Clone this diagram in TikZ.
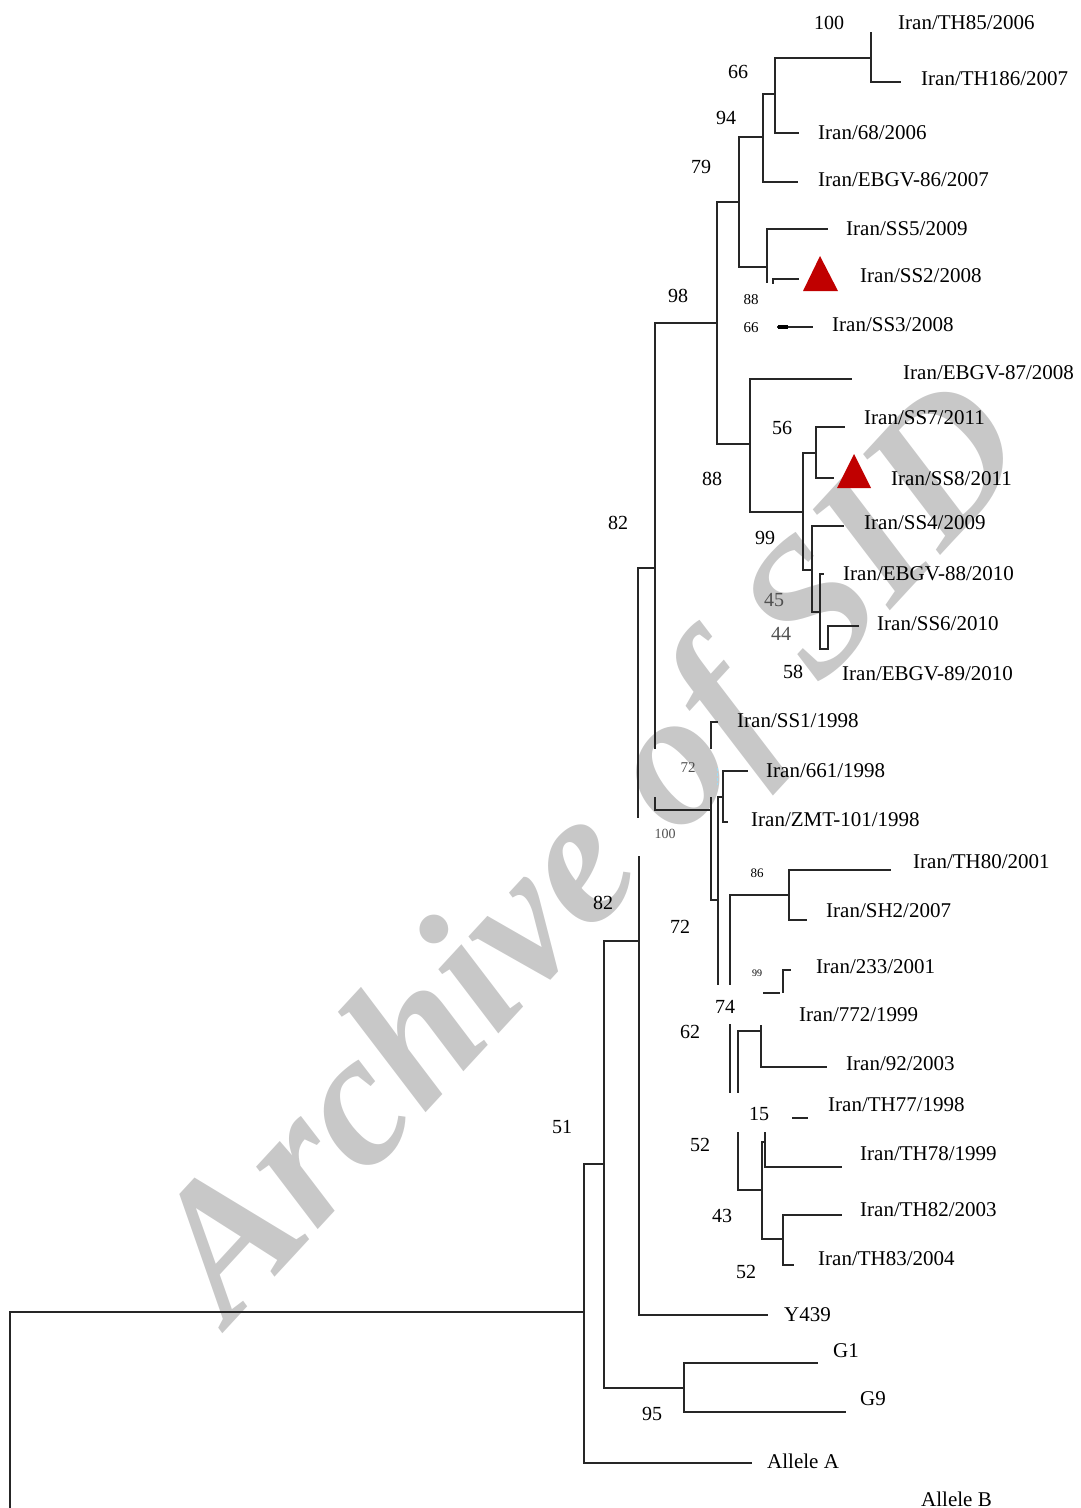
\documentclass[tikz,border=0pt]{standalone}
\usepackage{fontspec}
\setmainfont{Liberation Serif}
\definecolor{wm}{RGB}{200,200,200}
\definecolor{tri}{RGB}{192,0,0}
\definecolor{gnum}{RGB}{80,80,80}
\begin{document}
\begin{tikzpicture}[x=1pt,y=-1pt,
  br/.style={line width=1.8pt, line cap=rect, black!85},
  leaf/.style={anchor=west, inner sep=0pt, font=\fontsize{21}{24}\selectfont},
  boot/.style={inner sep=0pt, font=\fontsize{20}{24}\selectfont},
  sboot/.style={inner sep=0pt, font=\fontsize{15}{18}\selectfont},
  redtri/.style={fill=tri}]
\useasboundingbox (0,0) rectangle (1080,1508);
% watermark
\node[rotate=47.3, text=wm, inner sep=0pt, font=\fontsize{191}{191}\selectfont\bfseries\itshape] (wmk) at (598,858) {Archive of SID};
% ---------------- branches ----------------
\draw[br] (871,33) -- (871,82) -- (900,82);
\draw[br] (775,58) -- (871,58);
\draw[br] (775,58) -- (775,133) -- (798,133);
\draw[br] (763,94) -- (775,94);
\draw[br] (763,94) -- (763,182) -- (797,182);
\draw[br] (739,137) -- (763,137);
\draw[br] (739,137) -- (739,267) -- (767,267);
\draw[br] (827,229) -- (767,229) -- (767,282);
\draw[br] (773,283) -- (773,279) -- (798,279);
\draw[br] (778,327) -- (812,327);
\draw[line width=4pt] (778,327) -- (788,327);
\draw[br] (717,202) -- (739,202);
\draw[br] (717,202) -- (717,444) -- (750,444);
\draw[br] (655,323) -- (717,323);
\draw[br] (851,379) -- (750,379) -- (750,512) -- (803,512);
\draw[br] (816,453) -- (803,453) -- (803,570) -- (812,570);
\draw[br] (844,427) -- (816,427) -- (816,478) -- (833,478);
\draw[br] (843,526) -- (812,526) -- (812,612) -- (820,612);
\draw[br] (823,574) -- (820,574) -- (820,649) -- (828,649) -- (828,626) -- (858,626);
\draw[br] (655,323) -- (655,748);
\draw[br] (655,568) -- (638,568) -- (638,817);
\draw[br] (655,798) -- (655,810) -- (711,810);
\draw[br] (711,748) -- (711,722) -- (717,722);
\draw[br] (711,798) -- (711,900) -- (718,900);
\draw[br] (718,984) -- (718,797) -- (723,797);
\draw[br] (747,771) -- (723,771) -- (723,822) -- (727,822);
\draw[densely dashed, line width=1pt, cyan!40] (717,768) -- (717,785);
\draw[br] (730,984) -- (730,895) -- (789,895);
\draw[br] (890,870) -- (789,870) -- (789,920) -- (806,920);
\draw[br] (790,970) -- (783,970) -- (783,992);
\draw[br] (764,993) -- (779,993);
\draw[br] (730,1025) -- (730,1092);
\draw[br] (738,1092) -- (738,1031) -- (761,1031);
\draw[br] (761,1026) -- (761,1067) -- (826,1067);
\draw[br] (793,1118) -- (807,1118);
\draw[br] (738,1133) -- (738,1190) -- (762,1190);
\draw[br] (765,1142) -- (762,1142) -- (762,1239) -- (783,1239);
\draw[br] (765,1133) -- (765,1167) -- (841,1167);
\draw[br] (841,1215) -- (783,1215) -- (783,1265) -- (793,1265);
\draw[br] (639,857) -- (639,1315) -- (767,1315);
\draw[br] (639,941) -- (604,941) -- (604,1388) -- (684,1388);
\draw[br] (817,1363) -- (684,1363) -- (684,1412) -- (845,1412);
\draw[br] (604,1164) -- (584,1164) -- (584,1463) -- (751,1463);
\draw[br] (584,1312) -- (10,1312) -- (10,1510);
% markers
\fill[redtri] (820,256) -- (838,291) -- (803,291) -- cycle;
\fill[redtri] (854,454) -- (871,488) -- (837,488) -- cycle;
% ---------------- leaf labels ----------------
\node[leaf] (l1) at (898,23) {Iran/TH85/2006};
\node[leaf] (l2) at (921,79) {Iran/TH186/2007};
\node[leaf] (l3) at (818,133) {Iran/68/2006};
\node[leaf] (l4) at (818,180) {Iran/EBGV-86/2007};
\node[leaf] (l5) at (846,229) {Iran/SS5/2009};
\node[leaf] (l6) at (860,276) {Iran/SS2/2008};
\node[leaf] (l7) at (832,325) {Iran/SS3/2008};
\node[leaf] (l8) at (903,373) {Iran/EBGV-87/2008};
\node[leaf] (l9) at (864,418) {Iran/SS7/2011};
\node[leaf] (l10) at (891,479) {Iran/SS8/2011};
\node[leaf] (l11) at (864,523) {Iran/SS4/2009};
\node[leaf] (l12) at (843,574) {Iran/EBGV-88/2010};
\node[leaf] (l13) at (877,624) {Iran/SS6/2010};
\node[leaf] (l14) at (842,674) {Iran/EBGV-89/2010};
\node[leaf] (l15) at (737,721) {Iran/SS1/1998};
\node[leaf] (l16) at (766,771) {Iran/661/1998};
\node[leaf] (l17) at (751,820) {Iran/ZMT-101/1998};
\node[leaf] (l18) at (913,862) {Iran/TH80/2001};
\node[leaf] (l19) at (826,911) {Iran/SH2/2007};
\node[leaf] (l20) at (816,967) {Iran/233/2001};
\node[leaf] (l21) at (799,1015) {Iran/772/1999};
\node[leaf] (l22) at (846,1064) {Iran/92/2003};
\node[leaf] (l23) at (828,1105) {Iran/TH77/1998};
\node[leaf] (l24) at (860,1154) {Iran/TH78/1999};
\node[leaf] (l25) at (860,1210) {Iran/TH82/2003};
\node[leaf] (l26) at (818,1259) {Iran/TH83/2004};
\node[leaf] (l27) at (784,1315) {Y439};
\node[leaf] (l28) at (833,1351) {G1};
\node[leaf] (l29) at (860,1399) {G9};
\node[leaf] (l30) at (767,1461) {Allele A};
\node[leaf] (l31) at (921,1499) {Allele B};
% ---------------- bootstrap values ----------------
\node[boot] (b1) at (829,23) {100};
\node[boot] (b2) at (738,72) {66};
\node[boot] (b3) at (726,118) {94};
\node[boot] (b4) at (701,167) {79};
\node[boot] (b5) at (678,296) {98};
\node[sboot] (b6) at (751,300) {88};
\node[sboot] (b7) at (751,328) {66};
\node[boot] (b8) at (782,428) {56};
\node[boot] (b9) at (712,479) {88};
\node[boot] (b10) at (618,523) {82};
\node[boot] (b11) at (765,538) {99};
\node[boot, text=gnum] (b12) at (774,600) {45};
\node[boot, text=gnum] (b13) at (781,634) {44};
\node[boot] (b14) at (793,672) {58};
\node[sboot, text=gnum] (b15) at (688,768) {72};
\node[inner sep=0pt, font=\fontsize{14}{16}\selectfont, text=gnum] (b16) at (665,834) {100};
\node[inner sep=0pt, font=\fontsize{13}{15}\selectfont] (b17) at (757,873) {86};
\node[boot] (b18) at (603,903) {82};
\node[boot] (b19) at (680,927) {72};
\node[inner sep=0pt, font=\fontsize{10}{12}\selectfont] (b20) at (757,973) {99};
\node[boot] (b21) at (725,1007) {74};
\node[boot] (b22) at (690,1032) {62};
\node[boot] (b23) at (759,1114) {15};
\node[boot] (b24) at (562,1127) {51};
\node[boot] (b25) at (700,1145) {52};
\node[boot] (b26) at (722,1216) {43};
\node[boot] (b27) at (746,1272) {52};
\node[boot] (b28) at (652,1414) {95};
\end{tikzpicture}
\end{document}
